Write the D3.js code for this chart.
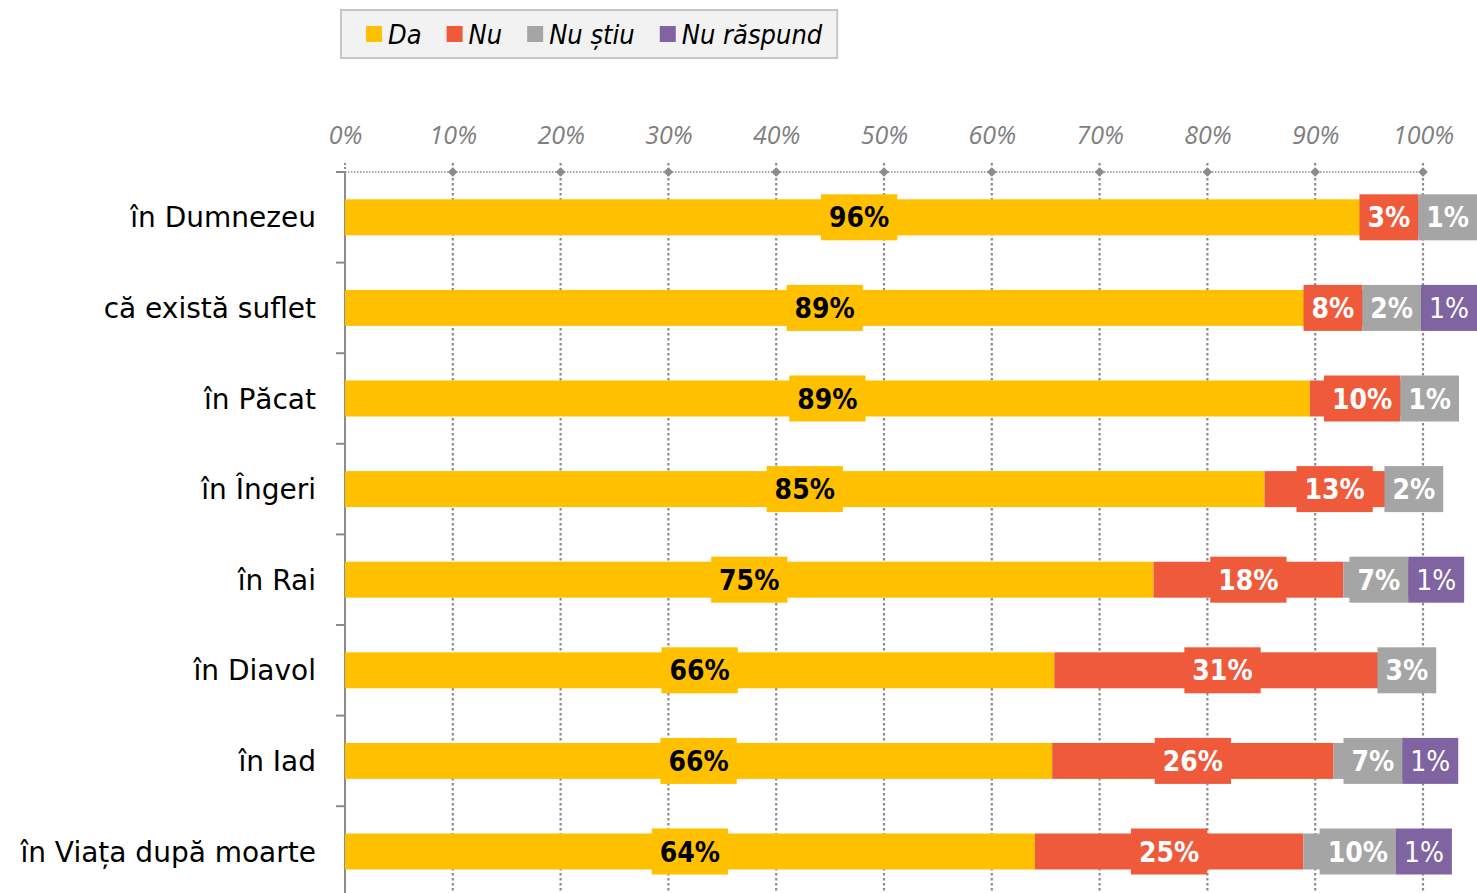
<!DOCTYPE html>
<html>
<head>
<meta charset="utf-8">
<script src="https://cdn.jsdelivr.net/npm/d3@7/dist/d3.min.js"></script>
<style>
  html, body { margin: 0; padding: 0; background: #fff; overflow: hidden; }
  svg { display: block; }
</style>
</head>
<body>
<svg id="chart" width="1477" height="893"></svg>
<script>
// ---- data ----
const categories = ["în Dumnezeu", "că există suflet", "în Păcat", "în Îngeri", "în Rai", "în Diavol", "în Iad", "în Viața după moarte"];
const seriesNames = ["Da", "Nu", "Nu știu", "Nu răspund"];
const da        = [95.4, 89.0, 89.5, 85.3, 75.0, 65.8, 65.6, 64.0];
const nu        = [3.2, 8.0, 9.7, 13.0, 17.6, 31.2, 26.1, 24.9];
const nuStiu    = [1.4, 2.0, 0.8, 1.7, 6.6, 3.0, 7.3, 10.1];
const nuRaspund = [0.0, 1.0, 0.0, 0.0, 0.8, 0.0, 1.0, 1.0];
const xTicks = [0, 10, 20, 30, 40, 50, 60, 70, 80, 90, 100];
const labelsDa        = ["96%", "89%", "89%", "85%", "75%", "66%", "66%", "64%"];
const labelsNu        = ["3%", "8%", "10%", "13%", "18%", "31%", "26%", "25%"];
const labelsNuStiu    = ["1%", "2%", "1%", "2%", "7%", "3%", "7%", "10%"];
const labelsNuRaspund = [null, "1%", null, null, "1%", null, "1%", "1%"];

const colors = ["#FFC000", "#EF5A3B", "#A5A5A5", "#8064A2"];
const labelColors = ["#000000", "#ffffff", "#ffffff", "#ffffff"];
const labelWeights = ["bold", "bold", "bold", "normal"];
const seriesValues = [da, nu, nuStiu, nuRaspund];
const seriesLabels = [labelsDa, labelsNu, labelsNuStiu, labelsNuRaspund];

const svg = d3.select("#chart");
const W = 1477, H = 893;

const x = d3.scaleLinear().domain([0, 100]).range([345, 1423]);
const rowStep = 90.6;
const y = d3.scaleBand().domain(categories)
  .range([172, 172 + rowStep * categories.length])
  .paddingInner(0.603).paddingOuter(0.3015);

const gridColor = "#8c8c8c";

// ---- gridlines ----
const grid = svg.append("g");
grid.selectAll("line.g").data(xTicks.filter(d => d > 0)).join("line")
  .attr("x1", d => x(d)).attr("x2", d => x(d))
  .attr("y1", 163).attr("y2", H + 10)
  .attr("stroke", gridColor).attr("stroke-width", 2.2)
  .attr("stroke-dasharray", "2.5,2.5");
grid.append("line").attr("x1", x(0)).attr("x2", x(0)).attr("y1", 163).attr("y2", 172)
  .attr("stroke", gridColor).attr("stroke-width", 2).attr("stroke-dasharray", "2,2");

grid.append("line").attr("x1", x(0)).attr("x2", x(100) + 4).attr("y1", 172).attr("y2", 172)
  .attr("stroke", gridColor).attr("stroke-width", 1.5).attr("stroke-dasharray", "1.5,1.5");

grid.selectAll("path.dm").data(xTicks.filter(d => d > 0)).join("path")
  .attr("d", d3.symbol().type(d3.symbolDiamond2).size(60))
  .attr("transform", d => `translate(${x(d)},172)`)
  .attr("fill", gridColor);

const xAxis = d3.axisTop(x).tickValues(xTicks).tickFormat(d => d + "%").tickSize(0);
const gx = svg.append("g").attr("transform", "translate(0,147)").call(xAxis);
gx.select(".domain").remove();
gx.selectAll("text")
  .attr("font-family", "'Open Sans', 'DejaVu Sans', sans-serif")
  .attr("font-style", "italic")
  .attr("font-size", 25)
  .attr("fill", "#7f7f7f")
  .attr("dy", "0");

// ---- y axis ----
const yAxisG = svg.append("g");
yAxisG.append("line").attr("x1", x(0)).attr("x2", x(0)).attr("y1", 172).attr("y2", H + 10)
  .attr("stroke", "#8c8c8c").attr("stroke-width", 2);
const bounds = categories.map((c, i) => 172 + rowStep * i);
yAxisG.selectAll("line.tk").data(bounds).join("line")
  .attr("x1", x(0) - 9).attr("x2", x(0)).attr("y1", d => d).attr("y2", d => d)
  .attr("stroke", "#8c8c8c").attr("stroke-width", 2);

yAxisG.selectAll("text.cat").data(categories).join("text")
  .attr("x", 316).attr("y", d => y(d) + y.bandwidth() / 2)
  .attr("dy", "0.36em")
  .attr("text-anchor", "end")
  .attr("font-family", "'DejaVu Sans', sans-serif")
  .attr("font-size", 28)
  .attr("fill", "#000")
  .text(d => d);

// ---- bars ----
const stacks = categories.map((c, i) => {
  let acc = 0;
  return seriesValues.map((s, k) => {
    const v = s[i];
    const seg = { cat: c, row: i, k, x0: acc, x1: acc + v, v, label: seriesLabels[k][i] };
    acc += v;
    return seg;
  });
});
const allSegs = stacks.flat();

svg.append("g").selectAll("rect").data(allSegs.filter(d => d.v > 0)).join("rect")
  .attr("x", d => x(d.x0)).attr("width", d => x(d.x1) - x(d.x0))
  .attr("y", d => y(d.cat)).attr("height", y.bandwidth())
  .attr("fill", d => colors[d.k]);

// ---- labels ----
const labG = svg.append("g");
const fontLab = "'DejaVu Sans', sans-serif";
const measure = labG.append("text").attr("font-family", fontLab)
  .attr("font-size", 28).style("font-stretch", "condensed");
function textW(t, wgt) { measure.attr("font-weight", wgt).text(t); return measure.node().getComputedTextLength(); }

const pad = 8, boxH = 46;
stacks.forEach(row => {
  const labs = row.filter(s => s.label).map(s => {
    const tw = textW(s.label, labelWeights[s.k]);
    return { seg: s, label: s.label, w: tw + 2 * pad, target: x((s.x0 + s.x1) / 2) };
  });
  // push overlapping labels to the right, then keep inside the picture
  labs.forEach((l, i) => {
    l.left = l.target - l.w / 2;
    if (i > 0) l.left = Math.max(l.left, labs[i - 1].left + labs[i - 1].w);
  });
  for (let i = labs.length - 1; i >= 0; i--) {
    const limit = i === labs.length - 1 ? W : labs[i + 1].left;
    if (labs[i].left + labs[i].w > limit) labs[i].left = limit - labs[i].w;
  }
  labs.forEach(l => {
    const g = labG.append("g");
    const cy = y(l.seg.cat) + y.bandwidth() / 2;
    g.append("rect").attr("x", l.left).attr("y", cy - boxH / 2)
      .attr("width", l.w).attr("height", boxH).attr("fill", colors[l.seg.k]);
    g.append("text").attr("x", l.left + l.w / 2).attr("y", cy).attr("dy", "0.36em")
      .attr("text-anchor", "middle")
      .attr("font-family", fontLab).attr("font-weight", labelWeights[l.seg.k]).attr("font-size", 28)
      .style("font-stretch", "condensed")
      .attr("fill", labelColors[l.seg.k]).text(l.label);
  });
});
measure.remove();

// ---- legend ----
const leg = svg.append("g");
const legBox = leg.append("rect").attr("x", 341).attr("y", 10).attr("height", 48)
  .attr("fill", "#f2f2f2").attr("stroke", "#c6c6c6").attr("stroke-width", 2);
let lx = 366;
seriesNames.forEach((n, k) => {
  leg.append("rect").attr("x", lx).attr("y", 26).attr("width", 16).attr("height", 16).attr("fill", colors[k]);
  const t = leg.append("text").attr("x", lx + 22).attr("y", 34).attr("dy", "0.36em")
    .attr("font-family", "'DejaVu Sans', sans-serif").attr("font-style", "italic")
    .attr("font-size", 27).style("font-stretch", "condensed").attr("fill", "#000").text(n);
  const tw = t.node().getComputedTextLength();
  lx += 22 + tw + (k < seriesNames.length - 1 ? 25 : 15);
});
legBox.attr("width", lx - 341);
</script>
</body>
</html>
